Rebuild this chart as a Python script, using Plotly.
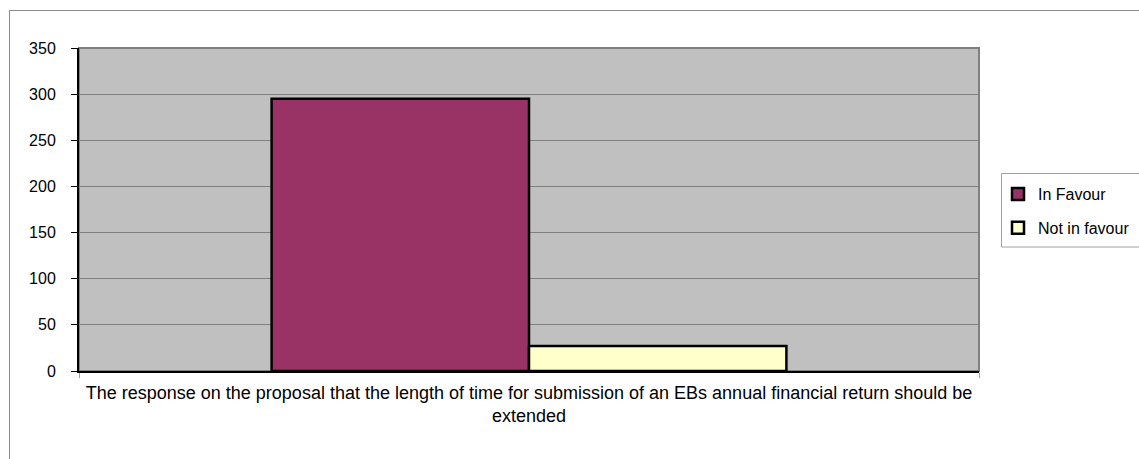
import plotly.graph_objects as go

categories = ["The response on the proposal that the length of time for submission of an EBs annual financial return should be<br>extended"]
series_names = ["In Favour", "Not in favour"]
in_favour = [295]
not_in_favour = [27]
series_colors = ["#993366", "#FFFFCC"]
y_ticks = [0, 50, 100, 150, 200, 250, 300, 350]

W, H = 1139, 459
L, R, T, B = 79, 979, 48, 371
pw, ph = R - L, B - T

def px(x):
    return (x - L) / pw

def py(y):
    return (B - y) / ph

FONT = "Liberation Sans, Arial, sans-serif"

fig = go.Figure()
for name, vals, col in zip(series_names, [in_favour, not_in_favour], series_colors):
    fig.add_trace(go.Bar(
        x=categories, y=vals, name=name, legendgroup=name,
        marker=dict(color=col, line=dict(color="#000000", width=2.5)),
    ))

fig.update_layout(
    width=W, height=H,
    margin=dict(l=L, r=W - R, t=T, b=H - B, autoexpand=False),
    paper_bgcolor="#FFFFFF",
    plot_bgcolor="#C0C0C0",
    barmode="group",
    bargap=0.428,
    bargroupgap=0,
    font=dict(family=FONT, size=16, color="#000000"),
    showlegend=True,
    legend=dict(
        x=px(998), y=py(177), xanchor="left", yanchor="top",
        bgcolor="rgba(0,0,0,0)", borderwidth=0,
        font=dict(family=FONT, size=16, color="#000000"),
        tracegroupgap=10, itemwidth=30,
    ),
    xaxis=dict(
        type="category", showgrid=False, showline=True, linecolor="#000000", linewidth=2,
        ticks="outside", tickson="boundaries", ticklen=5, tickcolor="#A0A0A0",
        tickfont=dict(family=FONT, size=18, color="#000000"),
        ticklabelstandoff=4,
    ),
    yaxis=dict(
        range=[0, 350], tickvals=y_ticks, showgrid=True, gridcolor="#808080", gridwidth=1,
        showline=True, linecolor="#000000", linewidth=2,
        ticks="outside", ticklen=6, tickcolor="#000000",
        tickfont=dict(family=FONT, size=16, color="#000000"),
        ticklabelstandoff=12, zeroline=False,
    ),
    shapes=[
        dict(type="rect", xref="paper", yref="paper", x0=0, y0=0, x1=1, y1=1,
             line=dict(color="#808080", width=2), layer="below"),
        dict(type="rect", xref="paper", yref="paper", x0=px(9.5), y0=py(470), x1=px(1150), y1=py(10.5),
             line=dict(color="#8C8C8C", width=1)),
        dict(type="rect", xref="paper", yref="paper", x0=px(1001.5), y0=py(247), x1=px(1150), y1=py(173.5),
             line=dict(color="#A0A0A0", width=1)),
    ],
)

fig.write_html("out.html")
